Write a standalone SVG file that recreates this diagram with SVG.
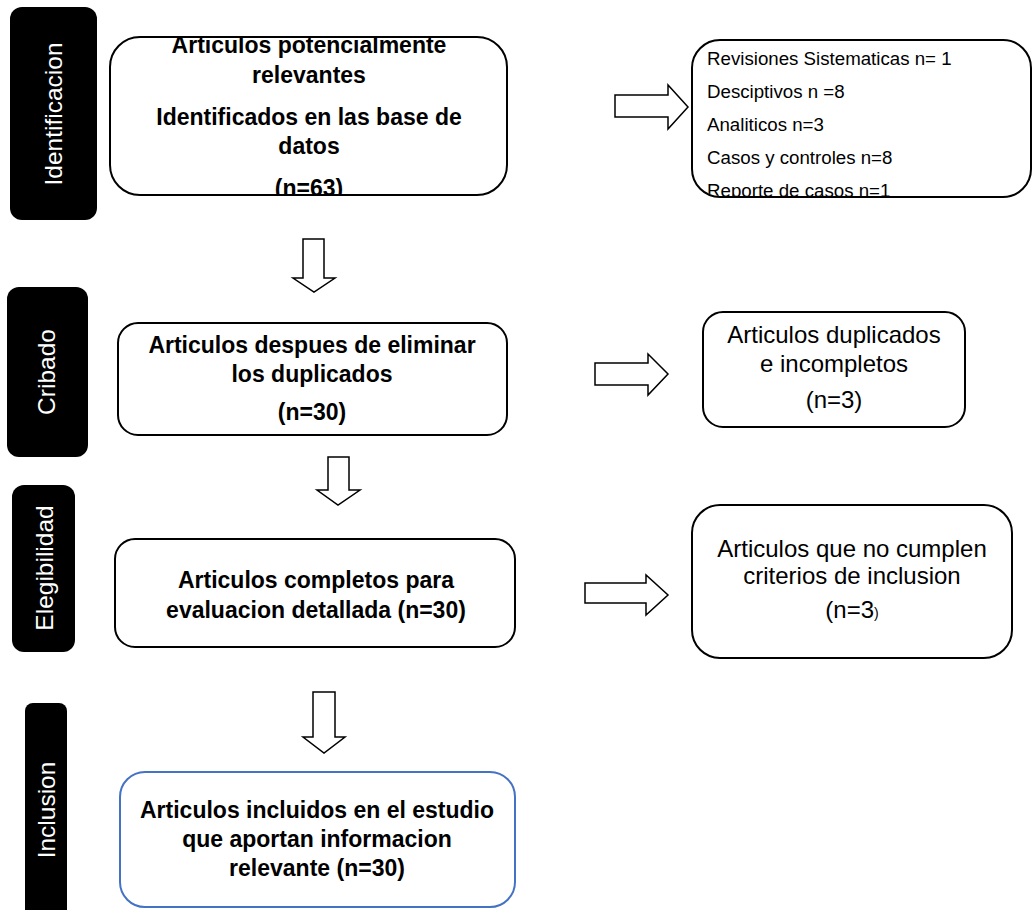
<svg xmlns="http://www.w3.org/2000/svg" width="1033" height="910" viewBox="0 0 1033 910">
<style>
.stage{fill:#000}
.stxt{fill:#fff;font-family:"Liberation Sans",Arial,sans-serif;font-size:24.5px;text-anchor:middle;dominant-baseline:central}
.box{fill:#fff;stroke:#000;stroke-width:2}
.blue{stroke:#4472C4}
.b{font-family:"Liberation Sans",Arial,sans-serif;font-size:23px;font-weight:bold;text-anchor:middle;fill:#000}
.r{font-family:"Liberation Sans",Arial,sans-serif;font-size:24px;text-anchor:middle;fill:#000}
.l{font-family:"Liberation Sans",Arial,sans-serif;font-size:18.7px;fill:#000}
.arrow{fill:#fff;stroke:#000;stroke-width:1.5;stroke-linejoin:miter}
</style>
<defs>
<clipPath id="c1"><rect x="111" y="38" width="395" height="156" rx="29"/></clipPath>
<clipPath id="c2"><rect x="693" y="41" width="337" height="155" rx="27"/></clipPath>
</defs>
<rect width="1033" height="910" fill="#fff"/>

<g id="stage-identificacion">
<rect class="stage" x="10" y="7" width="87" height="213" rx="12"/>
<text class="stxt" transform="rotate(-90 53 114)" x="53" y="114">Identificacion</text>
</g>
<g id="stage-cribado">
<rect class="stage" x="7" y="287" width="81" height="170" rx="12"/>
<text class="stxt" transform="rotate(-90 46 372)" x="46" y="372">Cribado</text>
</g>
<g id="stage-elegibilidad">
<rect class="stage" x="12" y="485" width="63" height="167" rx="12"/>
<text class="stxt" transform="rotate(-90 44 568)" x="44" y="568">Elegibilidad</text>
</g>
<g id="stage-inclusion">
<rect class="stage" x="25" y="703" width="42" height="215" rx="8"/>
<text class="stxt" transform="rotate(-90 46 810)" x="46" y="810">Inclusion</text>
</g>

<g id="connectors">
<polygon class="arrow" points="615,95 668,95 668,85 688,107 668,129 668,117 615,117"/>
<polygon class="arrow" points="595,363 648,363 648,354 668,374 648,395 648,385 595,385"/>
<polygon class="arrow" points="585,583 646,583 646,575 668,595 646,615 646,603 585,603"/>
<polygon class="arrow" points="303,239 324,239 324,278 335,278 314,292 293,278 303,278"/>
<polygon class="arrow" points="328,457 349,457 349,490 360,490 338,505 317,490 328,490"/>
<polygon class="arrow" points="313,692 335,692 335,737 345,737 324,753 303,737 313,737"/>
</g>

<g id="node-identificados">
<rect class="box" x="110" y="37" width="397" height="158" rx="30"/>
<g clip-path="url(#c1)">
<text class="b" x="309" y="53">Articulos potencialmente</text>
<text class="b" x="309" y="83">relevantes</text>
<text class="b" x="309" y="125">Identificados en las base de</text>
<text class="b" x="309" y="154">datos</text>
<text class="b" x="309" y="196">(n=63)</text>
</g>
</g>

<g id="node-tipos">
<rect class="box" x="692" y="40" width="339" height="157" rx="28"/>
<g clip-path="url(#c2)">
<text class="l" x="707" y="65">Revisiones Sistematicas n= 1</text>
<text class="l" x="707" y="98">Desciptivos n =8</text>
<text class="l" x="707" y="131">Analiticos n=3</text>
<text class="l" x="707" y="164">Casos y controles n=8</text>
<text class="l" x="707" y="197">Reporte de casos n=1</text>
</g>
</g>

<g id="node-cribado">
<rect class="box" x="118" y="323" width="389" height="112" rx="20"/>
<text class="b" x="312" y="353">Articulos despues de eliminar</text>
<text class="b" x="312" y="382">los duplicados</text>
<text class="b" x="312" y="420">(n=30)</text>
</g>

<g id="node-duplicados">
<rect class="box" x="703" y="312" width="262" height="115" rx="20"/>
<text class="r" x="834" y="343">Articulos duplicados</text>
<text class="r" x="834" y="372">e incompletos</text>
<text class="r" x="834" y="408">(n=3)</text>
</g>

<g id="node-elegibilidad">
<rect class="box" x="115" y="539" width="400" height="108" rx="20"/>
<text class="b" x="316" y="588">Articulos completos para</text>
<text class="b" x="316" y="618">evaluacion detallada (n=30)</text>
</g>

<g id="node-excluidos">
<rect class="box" x="692" y="505" width="320" height="153" rx="28"/>
<text class="r" x="852" y="557">Articulos que no cumplen</text>
<text class="r" x="852" y="584">criterios de inclusion</text>
<text class="r" x="852" y="618">(n=3<tspan font-size="14px">)</tspan></text>
</g>

<g id="node-incluidos">
<rect class="box blue" x="120" y="772" width="395" height="135" rx="25"/>
<text class="b" x="317" y="818">Articulos incluidos en el estudio</text>
<text class="b" x="317" y="847">que aportan informacion</text>
<text class="b" x="317" y="876">relevante (n=30)</text>
</g>
</svg>
